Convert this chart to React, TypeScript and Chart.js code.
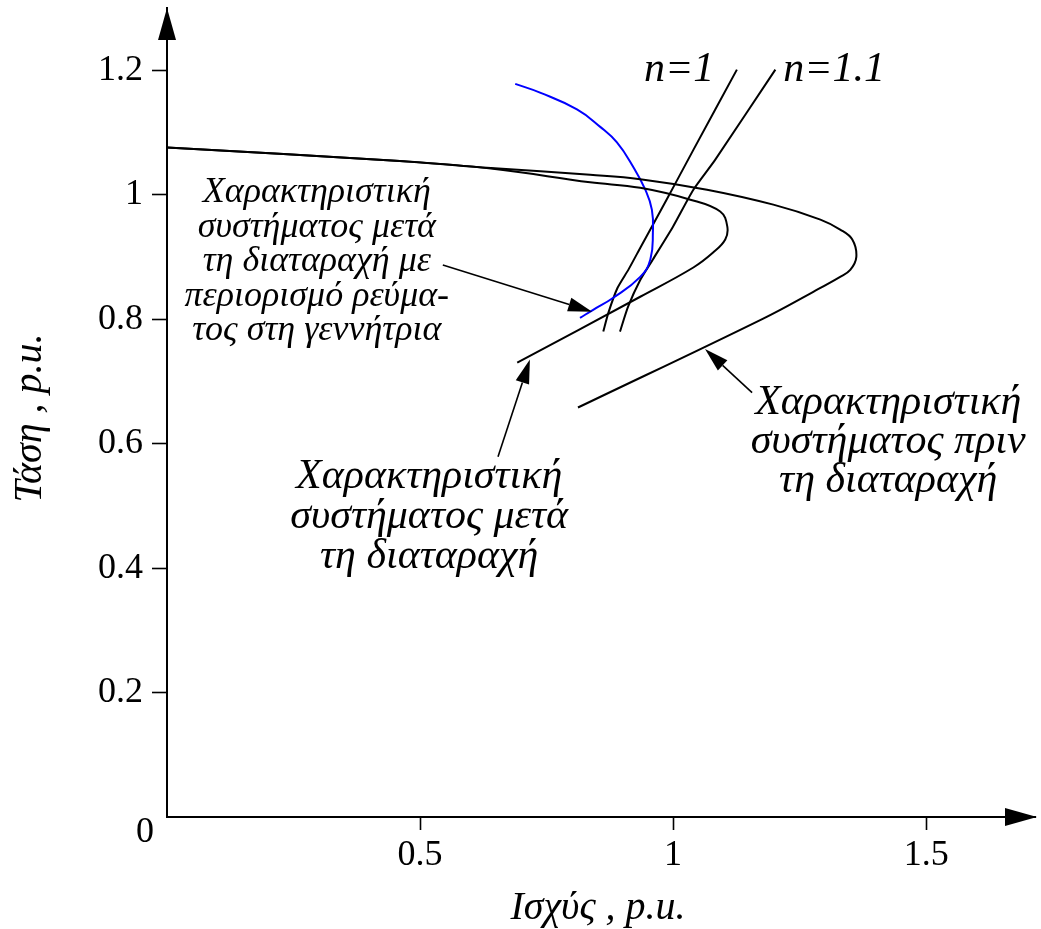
import React, { useEffect, useRef } from "react";
import { Chart, registerables } from "chart.js";

Chart.register(...registerables);

// Axis ranges and ticks
const X_MIN = 0;
const X_MAX = 1.715;
const Y_MIN = 0;
const Y_MAX = 1.3;
const X_TICKS = [0.5, 1, 1.5];
const Y_TICKS = [0.2, 0.4, 0.6, 0.8, 1, 1.2];

// System characteristic before the disturbance (outer nose curve)
const P_BEFORE = [0, 0.46, 0.64, 0.836, 0.935, 1.067, 1.198, 1.291, 1.33, 1.354, 1.362, 1.35, 1.33, 1.277, 1.178, 0.812];
const V_BEFORE = [1.076, 1.054, 1.043, 1.032, 1.025, 1.008, 0.984, 0.96, 0.944, 0.928, 0.9, 0.879, 0.868, 0.844, 0.801, 0.658];

// System characteristic after the disturbance (inner nose curve)
const P_AFTER = [0, 0.46, 0.64, 0.836, 0.935, 1.034, 1.093, 1.107, 1.103, 1.079, 1.04, 0.935, 0.692];
const V_AFTER = [1.076, 1.054, 1.042, 1.02, 1.011, 0.992, 0.973, 0.949, 0.928, 0.907, 0.883, 0.836, 0.73];

// After the disturbance with generator current limit (blue)
const P_LIMIT = [0.688, 0.737, 0.81, 0.856, 0.889, 0.921, 0.945, 0.958, 0.96, 0.955, 0.935, 0.881, 0.842, 0.816];
const V_LIMIT = [1.178, 1.164, 1.137, 1.109, 1.084, 1.045, 1.008, 0.976, 0.939, 0.896, 0.868, 0.834, 0.815, 0.802];

// Load characteristics
const P_N1 = [0.862, 0.872, 0.89, 0.912, 0.936, 0.969, 1.005, 1.04, 1.126];
const V_N1 = [0.78, 0.81, 0.85, 0.88, 0.916, 0.965, 1.019, 1.072, 1.201];
const P_N11 = [0.895, 0.911, 0.935, 0.96, 1.0, 1.04, 1.083, 1.202];
const V_N11 = [0.78, 0.82, 0.863, 0.896, 0.949, 1.008, 1.056, 1.201];

// Text labels
const X_TITLE = "Ισχύς , p.u.";
const Y_TITLE = "Τάση , p.u.";
const ORIGIN_LABEL = "0";
const LOAD_LABELS = ["n=1", "n=1.1"];
const LOAD_LABEL_P = [1.012, 1.318];
const LOAD_LABEL_V = [1.2, 1.2];

const NOTE_LIMIT = ["Χαρακτηριστική", "συστήματος μετά", "τη διαταραχή με", "περιορισμό ρεύμα-", "τος στη γεννήτρια"];
const NOTE_AFTER = ["Χαρακτηριστική", "συστήματος μετά", "τη διαταραχή"];
const NOTE_BEFORE = ["Χαρακτηριστική", "συστήματος πριν", "τη διαταραχή"];
const NOTE_P = [0.296, 0.518, 1.425];
const NOTE_V = [1.003, 0.547, 0.666];

// Arrows: start (P,V) -> tip (P,V)
const ARROW_P0 = [0.545, 0.654, 1.156];
const ARROW_V0 = [0.887, 0.579, 0.682];
const ARROW_P1 = [0.84, 0.717, 1.063];
const ARROW_V1 = [0.812, 0.735, 0.752];

const SERIF = '"Liberation Serif", "Times New Roman", Times, serif';

function pts(px: number[], py: number[]) {
  return px.map((x, i) => ({ x, y: py[i] }));
}

export default function App() {
  const ref = useRef<HTMLCanvasElement>(null);

  useEffect(() => {
    const canvas = ref.current;
    if (!canvas) return;

    const decor = {
      id: "decor",
      afterDraw(chart: any) {
        const { ctx, chartArea } = chart;
        const xs = chart.scales.x;
        const ys = chart.scales.y;
        const X = (v: number) => xs.getPixelForValue(v);
        const Y = (v: number) => ys.getPixelForValue(v);
        ctx.save();
        ctx.fillStyle = "#000";
        ctx.strokeStyle = "#000";

        // axis arrowheads
        const x0 = X(0);
        const y0 = Y(0);
        ctx.beginPath();
        ctx.moveTo(x0, chartArea.top);
        ctx.lineTo(x0 - 9, chartArea.top + 32);
        ctx.lineTo(x0 + 9, chartArea.top + 32);
        ctx.closePath();
        ctx.fill();
        ctx.beginPath();
        ctx.moveTo(chartArea.right + 2, y0);
        ctx.lineTo(chartArea.right - 30, y0 - 9);
        ctx.lineTo(chartArea.right - 30, y0 + 9);
        ctx.closePath();
        ctx.fill();

        // origin label
        ctx.font = `36px ${SERIF}`;
        ctx.textAlign = "center";
        ctx.textBaseline = "middle";
        ctx.fillText(ORIGIN_LABEL, x0 - 22, y0 + 16);

        // axis titles
        ctx.font = `italic 40px ${SERIF}`;
        ctx.fillText(X_TITLE, 598, 908);
        ctx.save();
        ctx.translate(30, 418);
        ctx.rotate(-Math.PI / 2);
        ctx.fillText(Y_TITLE, 0, 0);
        ctx.restore();

        // load labels
        ctx.font = `italic 42px ${SERIF}`;
        LOAD_LABELS.forEach((t, i) => {
          ctx.fillText(t, X(LOAD_LABEL_P[i]), Y(LOAD_LABEL_V[i]));
        });

        // notes
        const notes = [NOTE_LIMIT, NOTE_AFTER, NOTE_BEFORE];
        const sizes = [36, 42, 42];
        const lhs = [34.5, 40, 39];
        notes.forEach((lines, i) => {
          ctx.font = `italic ${sizes[i]}px ${SERIF}`;
          lines.forEach((t, j) => {
            ctx.fillText(t, X(NOTE_P[i]), Y(NOTE_V[i]) + j * lhs[i]);
          });
        });

        // arrows
        ctx.lineWidth = 1.6;
        ARROW_P0.forEach((_, i) => {
          const ax = X(ARROW_P0[i]);
          const ay = Y(ARROW_V0[i]);
          const bx = X(ARROW_P1[i]);
          const by = Y(ARROW_V1[i]);
          const ang = Math.atan2(by - ay, bx - ax);
          const L = 24;
          const W = 7;
          const cx = bx - L * Math.cos(ang);
          const cy = by - L * Math.sin(ang);
          ctx.beginPath();
          ctx.moveTo(ax, ay);
          ctx.lineTo(cx, cy);
          ctx.stroke();
          ctx.beginPath();
          ctx.moveTo(bx, by);
          ctx.lineTo(cx - W * Math.sin(ang), cy + W * Math.cos(ang));
          ctx.lineTo(cx + W * Math.sin(ang), cy - W * Math.cos(ang));
          ctx.closePath();
          ctx.fill();
        });
        ctx.restore();
      },
    };

    const lineDs = (label: string, data: any[], color: string, tension: number) => ({
      label,
      data,
      showLine: true,
      borderColor: color,
      backgroundColor: color,
      borderWidth: 2,
      pointRadius: 0,
      pointHoverRadius: 0,
      tension,
      fill: false,
    });

    const chart = new Chart(canvas, {
      type: "scatter",
      data: {
        datasets: [
          lineDs("Χαρακτηριστική συστήματος πριν τη διαταραχή", pts(P_BEFORE, V_BEFORE), "#000", 0.4),
          lineDs("Χαρακτηριστική συστήματος μετά τη διαταραχή", pts(P_AFTER, V_AFTER), "#000", 0.4),
          lineDs("Με περιορισμό ρεύματος στη γεννήτρια", pts(P_LIMIT, V_LIMIT), "#0000ff", 0.45),
          lineDs("n=1", pts(P_N1, V_N1), "#000", 0.2),
          lineDs("n=1.1", pts(P_N11, V_N11), "#000", 0.2),
        ],
      },
      options: {
        animation: false,
        responsive: false,
        devicePixelRatio: 1,
        layout: { padding: { left: 0, right: 6, top: 8, bottom: 0 } },
        plugins: {
          legend: { display: false },
          tooltip: { enabled: false },
        },
        scales: {
          x: {
            type: "linear",
            min: X_MIN,
            max: X_MAX,
            afterFit: (s: any) => {
              s.height = 112;
              s.paddingLeft = 0;
              s.paddingRight = 0;
            },
            afterBuildTicks: (s: any) => {
              s.ticks = X_TICKS.map((value) => ({ value }));
            },
            grid: {
              drawOnChartArea: false,
              drawTicks: true,
              tickLength: 13,
              tickColor: "#000",
              tickWidth: 1.6,
            },
            border: { display: true, color: "#000", width: 2 },
            ticks: {
              color: "#000",
              padding: 4,
              maxRotation: 0,
              font: { family: SERIF, size: 36 },
              callback: (v: any) => String(v),
            },
          },
          y: {
            type: "linear",
            min: Y_MIN,
            max: Y_MAX,
            afterFit: (s: any) => {
              s.width = 167;
              s.paddingTop = 0;
              s.paddingBottom = 0;
            },
            afterBuildTicks: (s: any) => {
              s.ticks = Y_TICKS.map((value) => ({ value }));
            },
            grid: {
              drawOnChartArea: false,
              drawTicks: true,
              tickLength: 15,
              tickColor: "#000",
              tickWidth: 1.6,
            },
            border: { display: true, color: "#000", width: 2 },
            ticks: {
              color: "#000",
              padding: 9,
              font: { family: SERIF, size: 36 },
              callback: (v: any) => String(v),
            },
          },
        },
      },
      plugins: [decor],
    });

    return () => chart.destroy();
  }, []);

  return (
    <div style={{ position: "absolute", left: 0, top: 0, width: 1041, height: 929, background: "#fff" }}>
      <canvas ref={ref} width={1041} height={929} style={{ display: "block" }} />
    </div>
  );
}
